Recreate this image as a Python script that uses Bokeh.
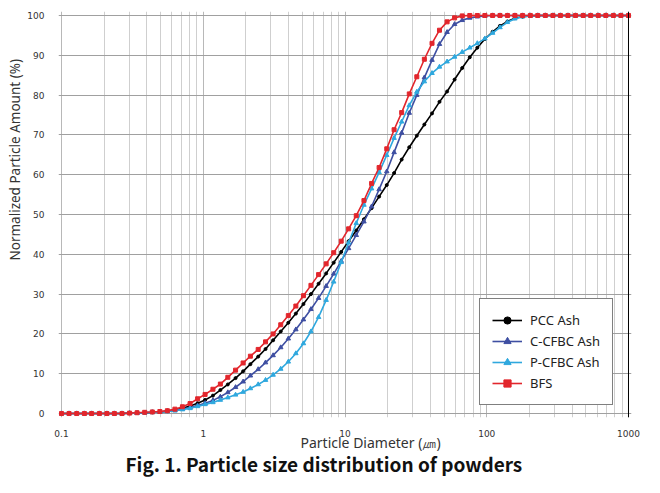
from bokeh.plotting import figure
from bokeh.models import FixedTicker, Span, Title, Legend, LegendItem
from bokeh.embed import file_html
from bokeh.resources import INLINE

# ---------------- data ----------------
diameter_um = [0.100, 0.113, 0.128, 0.145, 0.163, 0.185, 0.209, 0.236, 0.267, 0.302,
               0.341, 0.386, 0.437, 0.494, 0.558, 0.631, 0.713, 0.807, 0.912, 1.03,
               1.17, 1.32, 1.49, 1.69, 1.91, 2.15, 2.44, 2.75, 3.11, 3.52,
               3.98, 4.50, 5.09, 5.75, 6.51, 7.36, 8.32, 9.40, 10.6, 12.0,
               13.6, 15.4, 17.4, 19.7, 22.2, 25.1, 28.4, 32.1, 36.3, 41.1,
               46.4, 52.5, 59.3, 67.1, 75.9, 85.8, 97.0, 110, 124, 140,
               158, 179, 203, 229, 259, 293, 331, 374, 423, 479,
               541, 612, 692, 782, 884, 1000]

pcc_ash = [0, 0, 0, 0, 0, 0, 0, 0, 0, 0.1,
           0.1, 0.2, 0.3, 0.4, 0.6, 0.9, 1.3, 1.9, 2.6, 3.4,
           4.5, 5.9, 7.3, 8.9, 10.6, 12.4, 14.3, 16.2, 18.4, 20.6,
           22.8, 25.1, 27.5, 30.0, 32.6, 35.2, 37.9, 40.6, 43.3, 46.0,
           48.8, 51.6, 54.5, 57.4, 60.4, 63.8, 66.9, 69.8, 72.6, 75.4,
           78.3, 80.9, 83.9, 86.8, 89.5, 91.9, 94.1, 95.9, 97.4, 98.5,
           99.3, 99.7, 99.9, 100, 100, 100, 100, 100, 100, 100,
           100, 100, 100, 100, 100, 100]

c_cfbc_ash = [0, 0, 0, 0, 0, 0, 0, 0, 0, 0.1,
              0.1, 0.2, 0.3, 0.4, 0.6, 0.8, 1.1, 1.5, 2.0, 2.6,
              3.3, 4.2, 5.3, 6.6, 8.0, 9.5, 11.1, 12.8, 14.6, 16.6,
              18.8, 21.1, 23.6, 26.2, 29.0, 32.0, 35.1, 38.3, 41.5, 44.8,
              48.2, 52.0, 56.3, 60.8, 65.6, 70.5, 75.5, 80.0, 84.4, 88.8,
              92.8, 95.8, 97.8, 98.8, 99.4, 99.7, 99.9, 100, 100, 100,
              100, 100, 100, 100, 100, 100, 100, 100, 100, 100,
              100, 100, 100, 100, 100, 100]

p_cfbc_ash = [0, 0, 0, 0, 0, 0, 0, 0, 0, 0.1,
              0.1, 0.2, 0.3, 0.4, 0.5, 0.7, 1.0, 1.3, 1.8, 2.3,
              2.8, 3.4, 4.0, 4.7, 5.4, 6.3, 7.3, 8.4, 9.7, 11.2,
              13.0, 15.1, 17.6, 20.6, 24.2, 28.5, 33.1, 38.0, 42.9, 47.8,
              52.4, 56.5, 60.6, 64.9, 69.2, 73.3, 77.4, 80.8, 83.4, 85.5,
              87.1, 88.4, 89.6, 90.8, 91.9, 93.0, 94.2, 95.6, 97.0, 98.3,
              99.2, 99.7, 99.9, 100, 100, 100, 100, 100, 100, 100,
              100, 100, 100, 100, 100, 100]

bfs = [0, 0, 0, 0, 0, 0, 0, 0, 0, 0.1,
       0.2, 0.3, 0.4, 0.5, 0.7, 1.1, 1.7, 2.5, 3.7, 4.8,
       6.1, 7.4, 9.1, 10.9, 12.7, 14.4, 16.1, 18.0, 20.0, 22.3,
       24.6, 27.0, 29.6, 32.2, 34.9, 37.6, 40.4, 43.3, 46.4, 49.7,
       53.5, 57.8, 61.8, 66.5, 71.3, 75.6, 80.3, 84.6, 89.0, 93.0,
       96.3, 98.4, 99.4, 99.9, 100, 100, 100, 100, 100, 100,
       100, 100, 100, 100, 100, 100, 100, 100, 100, 100,
       100, 100, 100, 100, 100, 100]

series_names = ["PCC Ash", "C-CFBC Ash", "P-CFBC Ash", "BFS"]
series_values = [pcc_ash, c_cfbc_ash, p_cfbc_ash, bfs]
series_colors = ["#000000", "#3E4FA2", "#2FA8DE", "#E2262C"]
series_markers = ["circle", "triangle", "triangle", "square"]
series_marker_sizes = [3, 4.5, 4.5, 4]

x_ticks = [0.1, 1, 10, 100, 1000]
x_tick_labels = ["0.1", "1", "10", "100", "1000"]
x_minor = [0.2, 0.3, 0.4, 0.5, 0.6, 0.7, 0.8, 0.9,
           2, 3, 4, 5, 6, 7, 8, 9,
           20, 30, 40, 50, 60, 70, 80, 90,
           200, 300, 400, 500, 600, 700, 800, 900]
y_ticks = [0, 10, 20, 30, 40, 50, 60, 70, 80, 90, 100]

x_label_text = "Particle Diameter (㎛)"
y_label_text = "Normalized  Particle Amount (%)"
caption_text = "Fig. 1. Particle size distribution of powders"

# ---------------- figure ----------------
p = figure(width=644, height=477, x_axis_type="log",
           x_range=(0.0952, 1050), y_range=(-1, 101),
           output_backend="svg", toolbar_location=None,
           min_border_left=58, min_border_right=13,
           min_border_top=11, min_border_bottom=60)
p.outline_line_color = None
p.background_fill_color = "white"

p.xaxis.ticker = FixedTicker(ticks=x_ticks, minor_ticks=x_minor)
p.xaxis.major_label_overrides = {t: l for t, l in zip(x_ticks, x_tick_labels)}
p.yaxis.ticker = FixedTicker(ticks=y_ticks)

for ax in (p.xaxis[0], p.yaxis[0]):
    ax.axis_line_color = None
    ax.major_tick_line_color = None
    ax.minor_tick_line_color = None
    ax.major_label_text_font = "DejaVu Sans"
    ax.major_label_text_font_size = "9px"
    ax.major_label_text_color = "#333333"

p.xaxis.major_label_standoff = 6
p.yaxis.major_label_standoff = 8

p.xgrid.grid_line_color = "#b8b8b8"
p.xgrid.minor_grid_line_color = "#cfcfcf"
p.ygrid.grid_line_color = "#a0a0a0"

p.add_layout(Span(location=1000, dimension="height", line_color="#000000", line_width=1))

items = []
for name, vals, col, mk, ms in zip(series_names, series_values, series_colors,
                                   series_markers, series_marker_sizes):
    r1 = p.line(diameter_um, vals, line_color=col, line_width=1.6)
    r2 = p.scatter(diameter_um, vals, marker=mk, size=ms, fill_color=col, line_color=col)
    items.append(LegendItem(label=name, renderers=[r1, r2]))

legend = Legend(items=items, location=(421, 12))
legend.border_line_color = "#000000"
legend.border_line_width = 1
legend.background_fill_color = "white"
legend.background_fill_alpha = 1
legend.padding = 12
legend.spacing = 3
legend.label_height = 18
legend.glyph_height = 18
legend.glyph_width = 30
legend.label_standoff = 8
legend.label_text_font = "Noto Sans"
legend.label_text_font_size = "13px"
legend.label_text_color = "#222222"
legend.margin = 0
p.add_layout(legend, "center")

# axis titles (placed as titles so they can sit off-centre like the original)
ylab = Title(text=y_label_text, align="right", offset=44,
             text_font="Noto Sans", text_font_size="13.5px",
             text_font_style="normal", text_color="#333333", standoff=2)
p.add_layout(ylab, "left")

xlab = Title(text=x_label_text, align="left", offset=242, vertical_align="top",
             text_font="Noto Sans", text_font_size="14px",
             text_font_style="normal", text_color="#333333", standoff=-14)
p.add_layout(xlab, "below")

cap = Title(text=caption_text, align="left", offset=67,
            text_font="Noto Sans CJK KR", text_font_size="19px",
            text_font_style="bold", text_color="#111111", standoff=2)
p.add_layout(cap, "below")

open("out.html", "w").write(file_html(p, INLINE))
